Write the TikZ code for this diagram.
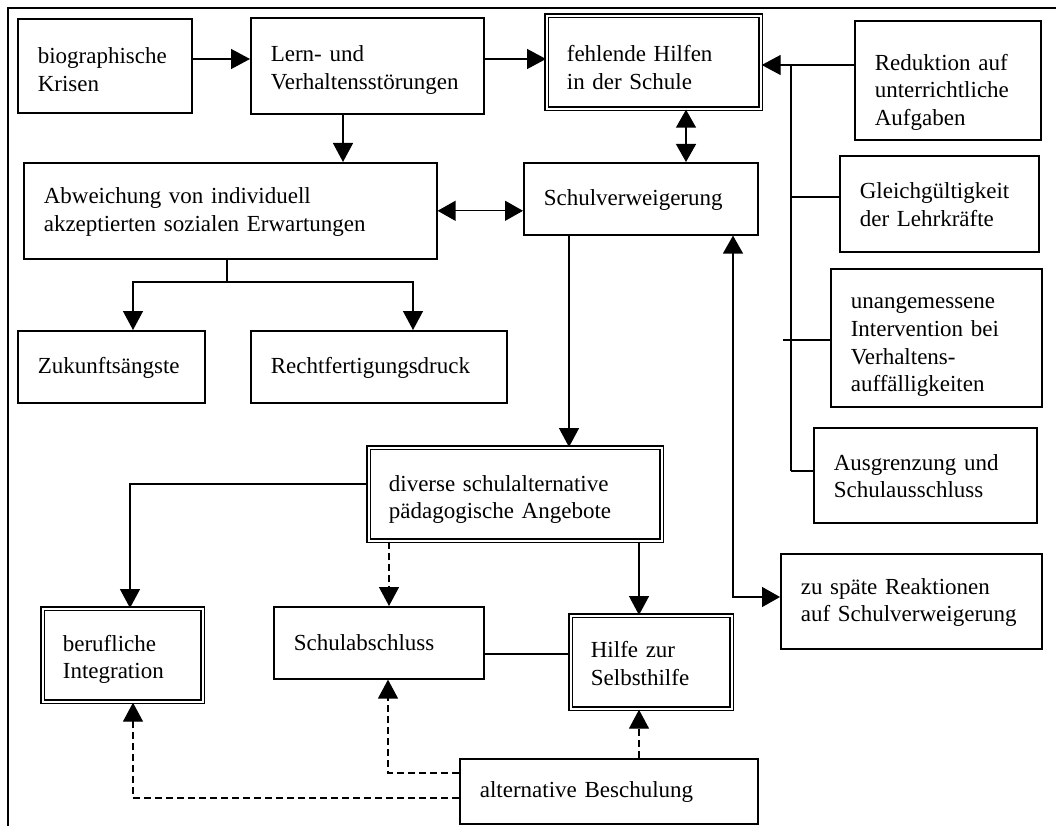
\documentclass[tikz,border=0pt]{standalone}
\usepackage{fontspec}
\setmainfont{Liberation Serif}
\usetikzlibrary{arrows.meta}
\newcommand\bx[8]{%
  \pgfmathsetmacro\bxw{#4-#2}\pgfmathsetmacro\bxh{#5-#3}\pgfmathsetmacro\bxt{#4-#2-40}%
  \pgfmathsetmacro\bxr{18+2*#8}%
  \node[#6, anchor=north west, minimum width=\bxw pt, minimum height=\bxh pt, text width=\bxt pt] (#1) at (#2,#3) {\rule{0pt}{\bxr pt}#7};}
\begin{document}
\begin{tikzpicture}[x=1pt,y=-1pt,
  every node/.style={font=\fontsize{23}{27.6}\selectfont},
  box/.style={draw, line width=1.6pt, inner xsep=20pt, inner ysep=0pt, align=left},
  dbox/.style={box, line width=1.7pt, double, double distance=1.6pt},
  ln/.style={line width=1.4pt},
  arr/.style={ln, -{Triangle[length=19pt,width=20pt]}},
  arrboth/.style={ln, {Triangle[length=18pt,width=20pt]}-{Triangle[length=18pt,width=20pt]}},
  darr/.style={arr, dash pattern=on 7pt off 4pt}]
\useasboundingbox (0,0) rectangle (1056,826);
\draw[line width=2.2pt] (8,826) -- (8,8) -- (1056,8);
% boxes
\bx{bio}{17}{18}{191}{112}{box}{biographische\\Krisen}{3}
\bx{lern}{250}{17}{483}{113}{box}{Lern- und\\Verhaltensstörungen}{3}
\bx{feh}{546}{15}{760}{108}{dbox}{fehlende Hilfen\\in der Schule}{4}
\bx{abw}{23}{162}{436}{258}{box}{Abweichung von individuell\\akzeptierten sozialen Erwartungen}{0}
\bx{schulv}{523}{162}{757}{234}{box}{Schulverweigerung}{0}
\bx{red}{854}{20}{1040}{139}{box}{Reduktion auf\\unterrichtliche\\Aufgaben}{11}
\bx{gleich}{839}{155}{1038}{251}{box}{Gleichgültigkeit\\der Lehrkräfte}{0}
\bx{unang}{830}{268}{1041}{406}{box}{unangemessene\\Intervention bei\\Verhaltens-\\auffälligkeiten}{6}
\bx{ausgr}{813}{427}{1036}{522}{box}{Ausgrenzung und\\Schulausschluss}{0}
\bx{zsr}{780}{553}{1041}{648}{box}{zu späte Reaktionen\\auf Schulverweigerung}{0}
\bx{zuk}{17}{330}{204}{402}{box}{Zukunftsängste}{0}
\bx{recht}{250}{330}{506}{402}{box}{Rechtfertigungsdruck}{0}
\bx{div}{368}{447}{661}{540}{dbox}{diverse schulalternative\\pädagogische Angebote}{4}
\bx{beruf}{42}{608}{202}{701}{dbox}{berufliche\\Integration}{3}
\bx{schulab}{273}{606}{483}{678}{box}{Schulabschluss}{-2}
\bx{hilfe}{570}{615}{731}{708}{dbox}{Hilfe zur\\Selbsthilfe}{0}
\bx{alt}{459}{758}{757}{823}{box}{alternative Beschulung}{0}
% coordinates
\coordinate (y59) at (0,59);
\coordinate (x343) at (343,0);
\coordinate (x686) at (686,0);
\coordinate (bt) at (791,65);
\coordinate (bb) at (791,471);
\coordinate (g0) at (791,197);
\coordinate (u0) at (783,340);
\coordinate (x569) at (569,0);
\coordinate (zc) at (733,597);
\coordinate (st) at (227,282);
\coordinate (x133) at (133,0);
\coordinate (x413) at (413,0);
\coordinate (x130) at (130,0);
\coordinate (y484) at (0,484);
\coordinate (x389) at (389,0);
\coordinate (x639) at (639,0);
\coordinate (y654) at (0,654);
\coordinate (y773) at (0,773);
\coordinate (x388) at (388,0);
\coordinate (y798) at (0,798);
% connectors
\draw[arr] (bio.east|-y59) -- (lern.west|-y59);
\draw[arr] (lern.east|-y59) -- (feh.west|-y59);
\draw[arr] (lern.south-|x343) -- (abw.north-|x343);
\draw[arrboth] (abw.east) -- (schulv.west|-abw.east);
\draw[arrboth] (feh.south-|x686) -- (schulv.north-|x686);
\draw[arr] (red.west|-bt) -- (feh.east|-bt);
\draw[ln] (bt) -- (bb);
\draw[ln] (g0) -- (gleich.west|-g0);
\draw[ln] (u0) -- (unang.west|-u0);
\draw[ln] (bb) -- (ausgr.west|-bb);
\draw[arr] (schulv.south-|x569) -- (div.north-|x569);
\draw[arrboth] (schulv.south-|zc) -- (zc) -- (zsr.west|-zc);
\draw[ln] (abw.south-|st) -- (st);
\draw[arr] (st) -| (zuk.north-|x133);
\draw[arr] (st) -| (recht.north-|x413);
\draw[arr] (div.west|-y484) -| (beruf.north-|x130);
\draw[darr] (div.south-|x389) -- (schulab.north-|x389);
\draw[arr] (div.south-|x639) -- (hilfe.north-|x639);
\draw[ln] (schulab.east|-y654) -- (hilfe.west|-y654);
\draw[darr] (alt.north-|x639) -- (hilfe.south-|x639);
\draw[darr] (alt.west|-y773) -| (schulab.south-|x388);
\draw[darr] (alt.west|-y798) -| (beruf.south-|x133);
\end{tikzpicture}
\end{document}
